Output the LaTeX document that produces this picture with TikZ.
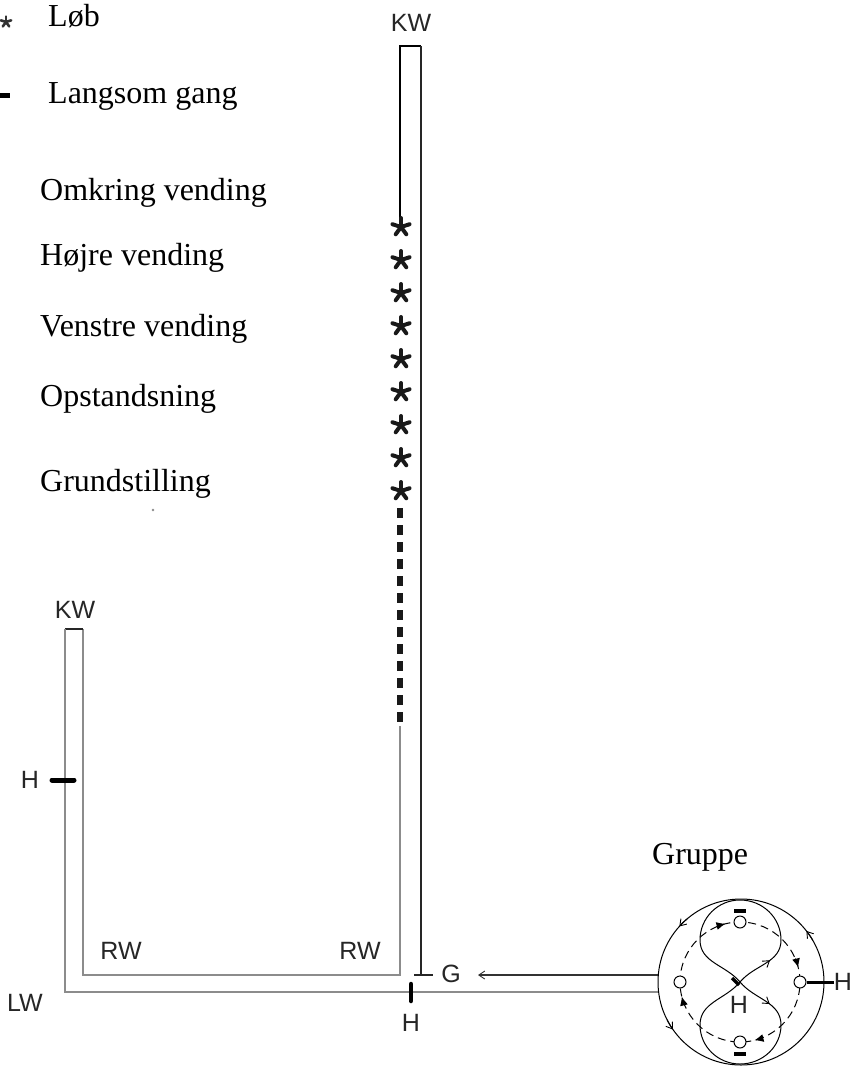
\documentclass[tikz,border=0pt]{standalone}
\usepackage{fontspec}
\setmainfont{Liberation Serif}
\newfontfamily\lsans{Liberation Sans}
\usetikzlibrary{arrows.meta,decorations.markings}
\tikzset{
  openarr/.tip={Straight Barb[length=6pt,width=8pt,line width=0.9pt]},
  fillarr/.tip={Latex[length=9pt,width=8pt]},
}
\begin{document}
\begin{tikzpicture}[x=1pt,y=-1pt,
  serifl/.style={font=\fontsize{32}{36}\selectfont, anchor=base west, inner sep=0pt},
  sansl/.style={font=\lsans\fontsize{25}{28}\selectfont, text=black!85, inner sep=0pt},
  grayline/.style={draw=black!45, line width=2pt},
  darkline/.style={draw=black!85, line width=1.4pt},
  thinline/.style={draw=black, line width=1.1pt},
  haltmark/.style={draw=black, line width=5pt, line cap=round},
  runpath/.style={draw=black!90, line width=6.5pt, dash pattern=on 10pt off 7pt},
  station/.style={circle, draw, fill=white, line width=1pt, minimum size=12pt, inner sep=0pt},
  astmark/.pic={\foreach \a in {90,162,234,306,18}{\draw[line width=4pt, line cap=round, black!90] (0pt,0pt) -- (\a:9pt);}},
  astsmall/.pic={\foreach \a in {90,162,234,306,18}{\draw[line width=2.6pt, line cap=round, black!80] (0pt,0pt) -- (\a:5.5pt);}},
]
\fill[white] (0,0) rectangle (851,1068);
\useasboundingbox (0,0) rectangle (851,1068);

% legend
\pic at (6,22) {astsmall};
\coordinate (ld0) at (0,95);
\coordinate (ld1) at (10,95);
\draw[line width=5pt] (ld0) -- (ld1);
\node[serifl] (lob) at (48,26) {Løb};
\node[serifl] (lang) at (48,103) {Langsom gang};

% list
\node[serifl] (omk) at (40,200) {Omkring vending};
\node[serifl] (hoj) at (40,265) {Højre vending};
\node[serifl] (ven) at (40,336) {Venstre vending};
\node[serifl] (ops) at (40,406) {Opstandsning};
\node[serifl] (gru) at (40,491) {Grundstilling};
\fill[black!45] (153,510) circle (1.3pt);

% right strip
\coordinate (rtl) at (400,46);
\coordinate (rtr) at (421,46);
\coordinate (rs0) at (400,218);
\coordinate (rd0) at (400,508);
\coordinate (rd1) at (400,726);
\coordinate (rbl) at (400,975);
\coordinate (rbr) at (421,975);
\coordinate (tick0) at (414,975);
\coordinate (tick1) at (433,975);
\node[sansl] (kw1) at (411,23) {KW};
\draw[thinline] (rs0) -- (rtl) -- (rtr);
\draw[darkline] (rtr) -- (rbr);
\draw[darkline] (tick0) -- (tick1);
\foreach \k in {0,...,8}{\pic at (401,227+33*\k) {astmark};}
\draw[runpath] (rd0) -- (rd1);

% left strip and bottom
\coordinate (lti) at (83,629);
\coordinate (lto) at (65,629);
\coordinate (lbi) at (83,975);
\coordinate (lbo) at (65,992);
\coordinate (cbo) at (658.5,992);
\coordinate (cto) at (658.3,975);
\coordinate (atip) at (478,975);
\draw[grayline] (rd1) -- (rbl) -- (lbi) -- (lti);
\draw[darkline] (lti) -- (lto);
\draw[grayline] (lto) -- (lbo) -- (cbo);
\draw[line width=1.1pt, black!80, -{openarr}] (cto) -- (atip);
\node[sansl] (kw2) at (75,610) {KW};
\coordinate (hm0) at (52,780);
\coordinate (hm1) at (74,780);
\draw[haltmark] (hm0) -- (hm1);
\node[sansl] (h1) at (30,780) {H};
\coordinate (hb0) at (411,984);
\coordinate (hb1) at (411,1001);
\draw[line width=4.5pt, line cap=round] (hb0) -- (hb1);
\node[sansl] (h2) at (411,1023) {H};
\node[sansl] (rw1) at (121,951) {RW};
\node[sansl] (rw2) at (360,951) {RW};
\node[sansl] (lw) at (25,1003) {LW};
\node[sansl] (g) at (451,974) {G};

% group
\node[serifl] (grp) at (652,864) {Gruppe};
\begin{scope}[shift={(741,982)}, x=1pt, y=1pt]
  \coordinate (gc) at (0,0);
  % outer circle, counter-clockwise
  \draw[line width=1pt] (gc) circle (83pt);
  \foreach \t in {38,138,215}{
    \draw[line width=1pt, -{openarr}] (gc) ++(\t-8:83) arc[start angle=\t-8, end angle=\t, radius=83];
  }
  % figure eight
  \coordinate (eo) at (-1,0);
  \coordinate (eur) at (40,42);
  \coordinate (eut) at (-1,82);
  \coordinate (eul) at (-41,42);
  \coordinate (elr) at (40,-43);
  \coordinate (elb) at (-1,-82);
  \coordinate (ell) at (-41,-43);
  \draw[line width=1pt, postaction={decorate}, decoration={markings,
    mark=at position 0.075 with {\arrow{openarr}},
    mark=at position 0.575 with {\arrow{openarr}}}]
    (eo) to[out=50,in=-90] (eur) to[out=90,in=0] (eut) to[out=180,in=90] (eul)
    to[out=-90,in=130] (eo) to[out=-50,in=90] (elr) to[out=-90,in=0] (elb)
    to[out=180,in=-90] (ell) to[out=90,in=-130] (eo);
  % dashed circle, clockwise
  \draw[line width=1pt, dash pattern=on 8pt off 5pt] (eo) circle (60pt);
  \foreach \t in {104,14,-76,-166}{
    \draw[line width=1pt, -{fillarr}] (eo) ++(\t+9:60) arc[start angle=\t+9, end angle=\t, radius=60];
  }
  \node[station] (cl) at (-61,0) {};
  \node[station] (cr) at (59,0) {};
  \node[station] (ct) at (-1,60) {};
  \node[station] (cb) at (-1,-60) {};
  \draw[line width=4.5pt] (-7,71) -- (5,71);
  \draw[line width=4.5pt] (-7,-72) -- (5,-72);
  \node[sansl] (h4) at (102,0) {H};
  \draw[line width=3pt] (cr) -- (h4);
  \draw[line width=3.5pt] (-9,4) -- (-2,-3);
  \node[sansl] (h3) at (-2,-23) {H};
\end{scope}
\end{tikzpicture}
\end{document}
